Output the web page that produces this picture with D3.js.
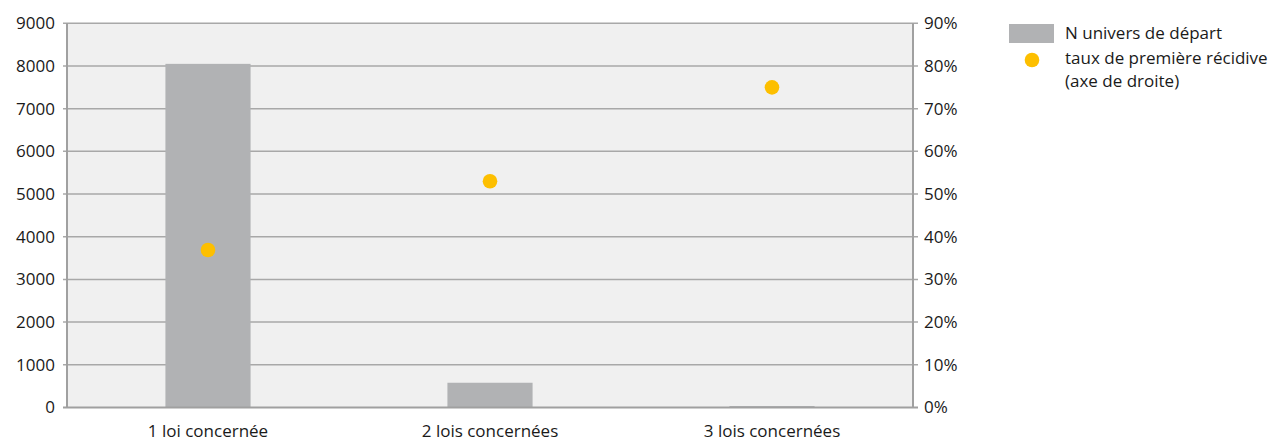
<!DOCTYPE html>
<html><head><meta charset="utf-8">
<script src="https://cdn.jsdelivr.net/npm/d3@7"></script>
<style>body{margin:0;background:#fff;} text{font-family:"Open Sans",sans-serif;fill:#1a1a1a;}</style>
</head><body><svg id="c" width="1269" height="441"></svg>
<script>
const categories = ["1 loi concernée", "2 lois concernées", "3 lois concernées"];
const nUnivers = [8050, 580, 35];
const tauxRecidive = [0.369, 0.53, 0.75];
const leftTicks = [0,1000,2000,3000,4000,5000,6000,7000,8000,9000];
const rightTicks = [0,0.1,0.2,0.3,0.4,0.5,0.6,0.7,0.8,0.9];
const legendLabels = ["N univers de départ", "taux de première récidive", "(axe de droite)"];

const svg = d3.select("#c");
const m = {l:67, r:913, t:23.3, b:407.5};
const x = d3.scaleBand().domain(categories).range([m.l, m.r]).padding(0);
const yL = d3.scaleLinear().domain([0,9000]).range([m.b, m.t]);
const yR = d3.scaleLinear().domain([0,0.9]).range([m.b, m.t]);
const fs = "17px";

svg.append("rect").attr("x",m.l).attr("y",m.t).attr("width",m.r-m.l).attr("height",m.b-m.t).attr("fill","#f0f0f0");

// gridlines
svg.append("g").selectAll("line").data(leftTicks.filter(d=>d>0)).join("line")
  .attr("x1",m.l-4).attr("x2",m.r+5).attr("y1",d=>yL(d)).attr("y2",d=>yL(d))
  .attr("stroke","#a8a8a8").attr("stroke-width",1.5);

// bars
const bw = x.bandwidth()*0.302;
svg.append("g").selectAll("rect").data(nUnivers).join("rect")
  .attr("x",(d,i)=>x(categories[i])+x.bandwidth()/2-bw/2)
  .attr("width",bw)
  .attr("y",d=>yL(d)).attr("height",d=>yL(0)-yL(d))
  .attr("fill","#b1b2b4");

// axes lines
svg.append("line").attr("x1",m.l).attr("x2",m.l).attr("y1",m.t).attr("y2",m.b).attr("stroke","#a0a0a0").attr("stroke-width",2);
svg.append("line").attr("x1",m.r).attr("x2",m.r).attr("y1",m.t).attr("y2",m.b).attr("stroke","#a0a0a0").attr("stroke-width",2);
svg.append("line").attr("x1",m.l-4).attr("x2",m.r+5).attr("y1",m.b).attr("y2",m.b).attr("stroke","#a0a0a0").attr("stroke-width",2);

// left axis
const la = svg.append("g").attr("transform",`translate(${m.l},0)`)
  .call(d3.axisLeft(yL).tickValues(leftTicks).tickSize(0).tickPadding(12).tickFormat(d3.format("d")));
la.select(".domain").remove();
la.selectAll("text").style("font-size",fs).attr("fill","#1a1a1a");
// right axis
const ra = svg.append("g").attr("transform",`translate(${m.r},0)`)
  .call(d3.axisRight(yR).tickValues(rightTicks).tickSize(0).tickPadding(11).tickFormat(d3.format(".0%")));
ra.select(".domain").remove();
ra.selectAll("text").style("font-size",fs).attr("fill","#1a1a1a");
// bottom axis
const ba = svg.append("g").attr("transform",`translate(0,${m.b})`)
  .call(d3.axisBottom(x).tickSize(0).tickPadding(17));
ba.select(".domain").remove();
ba.selectAll("text").style("font-size",fs).attr("fill","#1a1a1a");

// dots
svg.append("g").selectAll("circle").data(tauxRecidive).join("circle")
  .attr("cx",(d,i)=>x(categories[i])+x.bandwidth()/2)
  .attr("cy",d=>yR(d)).attr("r",7.3).attr("fill","#fdbf00");

// legend
const lg = svg.append("g");
lg.append("rect").attr("x",1009).attr("y",24).attr("width",45).attr("height",19).attr("fill","#b1b2b4");
lg.append("circle").attr("cx",1032).attr("cy",60).attr("r",7.3).attr("fill","#fdbf00");
lg.selectAll("text").data(legendLabels).join("text")
  .attr("x",1065).attr("y",(d,i)=>[39,64,87][i]).style("font-size",fs).text(d=>d);
</script></body></html>
